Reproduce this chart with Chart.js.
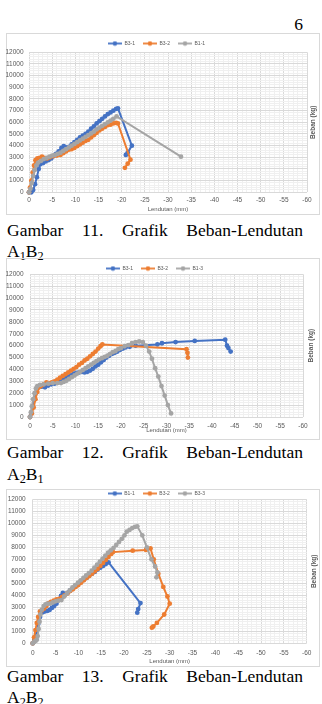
<!DOCTYPE html>
<html>
<head>
<meta charset="utf-8">
<script src="https://cdn.jsdelivr.net/npm/chart.js@4.4.0/dist/chart.umd.min.js"></script>
<style>
  body { margin:0; width:322px; height:704px; background:#fff; position:relative; overflow:hidden;
         font-family:"Liberation Serif", "Times New Roman", serif; color:#000; }
  .box { position:absolute; left:6px; width:314px; border:1px solid #d9d9d9; box-sizing:border-box; }
  .plot { position:absolute; left:6px; width:314px; }
  .cap { position:absolute; left:7px; width:296px; font-size:17.5px; line-height:22px; white-space:nowrap; }
  .line1 { display:flex; justify-content:space-between; }
  sub { font-size:70%; vertical-align:-0.25em; line-height:0; }
  #page { position:absolute; right:19px; top:13px; font-size:17.5px; line-height:22px; }
</style>
</head>
<body>
<div id="page">6</div>

<div class="box" style="top:33px;height:182px"></div>
<div class="plot" style="top:33px;height:180px"><canvas id="g11"></canvas></div>
<div class="cap line1" style="top:219px"><span>Gambar</span><span>11.</span><span>Grafik</span><span>Beban-Lendutan</span></div>
<div class="cap" style="top:240px">A<sub>1</sub>B<sub>2</sub></div>

<div class="box" style="top:258px;height:182px"></div>
<div class="plot" style="top:258px;height:176px"><canvas id="g12"></canvas></div>
<div class="cap line1" style="top:441px"><span>Gambar</span><span>12.</span><span>Grafik</span><span>Beban-Lendutan</span></div>
<div class="cap" style="top:463px">A<sub>2</sub>B<sub>1</sub></div>

<div class="box" style="top:489px;height:178px"></div>
<div class="plot" style="top:483px;height:182px"><canvas id="g13"></canvas></div>
<div class="cap line1" style="top:665px"><span>Gambar</span><span>13.</span><span>Grafik</span><span>Beban-Lendutan</span></div>
<div class="cap" style="top:686px">A<sub>2</sub>B<sub>2</sub></div>

<script>
// axis ranges (lendutan in mm is negative, beban in kg)
const xMin = -60, xMax = 0, xStep = 1, xLabelEvery = 5;
const yMin = 0, yMax = 12000, yStep = 200, yLabelEvery = 1000;
const colors = ['#4472C4', '#ED7D31', '#A5A5A5'];

// Gambar 11 - A1B2
const legend11 = ['B3-1', 'B3-2', 'B1-1'];
const g11Blue = [[0,0],[-0.5,0],[-0.9,200],[-1.3,700],[-1.7,1300],[-2.1,2000],[-2.4,2400],[-3,2500],[-3.6,2650],
  [-4.2,2750],[-4.8,2900],[-5.3,3100],[-5.8,3300],[-6.4,3500],[-7,3800],[-7.5,3950],[-8,3850],[-8.6,3900],
  [-9.2,4100],[-9.8,4300],[-10.4,4500],[-11,4700],[-11.6,4850],[-12.2,5000],[-12.8,5200],[-13.4,5450],
  [-14,5650],[-14.6,5900],[-15.2,6100],[-15.8,6300],[-16.4,6500],[-17,6700],[-17.6,6850],[-18.2,7000],
  [-18.8,7150],[-19.2,7200],[-22.2,4000],[-21.3,3400],[-20.9,3200]];
const g11Orange = [[0,0],[-0.2,400],[-0.5,1000],[-0.8,1700],[-1.1,2300],[-1.4,2750],[-1.8,2900],[-2.3,2950],
  [-2.8,3050],[-3.3,2950],[-3.9,2900],[-4.5,3000],[-5.2,3100],[-6,3150],[-6.8,3200],[-7.4,3350],[-8,3500],
  [-8.6,3650],[-9.2,3700],[-9.8,3800],[-10.4,3950],[-11,4100],[-11.6,4250],[-12.2,4400],[-12.8,4500],
  [-13.4,4700],[-14,4900],[-14.6,5100],[-15.2,5300],[-15.8,5450],[-16.4,5600],[-17,5750],[-17.6,5800],
  [-18.2,5900],[-18.8,5950],[-19.2,5900],[-21.9,2800],[-21.3,2450],[-20.7,2100]];
const g11Gray = [[0,0],[-0.3,300],[-0.6,800],[-0.9,1400],[-1.2,1900],[-1.6,2300],[-2,2550],[-2.6,2700],
  [-3.2,2850],[-3.8,2950],[-4.4,3050],[-5,3150],[-5.6,3200],[-6.2,3300],[-6.8,3400],[-7.4,3550],[-8,3700],
  [-8.6,3850],[-9.2,4000],[-9.8,4150],[-10.4,4300],[-11,4450],[-11.6,4600],[-12.2,4750],[-12.8,4900],
  [-13.4,5050],[-14,5200],[-14.6,5400],[-15.2,5550],[-15.8,5700],[-16.4,5850],[-17,6000],[-17.6,6150],
  [-18.2,6300],[-18.9,6500],[-32.8,3050]];

// Gambar 12 - A2B1
const legend12 = ['B3-1', 'B3-2', 'B1-3'];
const g12Blue = [[0,0],[-0.3,300],[-0.6,900],[-0.9,1500],[-1.2,2000],[-1.6,2400],[-2,2550],[-2.6,2550],
  [-3.3,2500],[-4,2650],[-4.7,2750],[-5.4,2800],[-6,2900],[-6.6,3000],[-7.2,3100],[-7.8,3250],[-8.4,3400],
  [-9,3500],[-9.6,3650],[-10.2,3700],[-10.8,3750],[-11.4,3800],[-12,3750],[-12.6,3800],[-13.2,3900],
  [-13.8,4050],[-14.4,4250],[-15,4400],[-15.6,4600],[-16.2,4800],[-16.8,5000],[-17.4,5150],[-18,5300],
  [-18.6,5400],[-19.2,5500],[-19.8,5650],[-20.4,5750],[-21,5850],[-21.9,5900],[-23.2,6000],[-28,6100],
  [-29,6200],[-32,6300],[-36.2,6400],[-42.9,6500],[-43.3,6000],[-43.6,5800],[-44.1,5500]];
const g12Orange = [[0,0],[-0.4,300],[-0.8,800],[-1.2,1500],[-1.6,2100],[-2,2500],[-2.4,2600],[-3,2750],
  [-3.6,2900],[-4.2,2850],[-4.8,2900],[-5.4,3000],[-6,3150],[-6.6,3300],[-7.2,3450],[-7.8,3600],[-8.4,3750],
  [-9,3900],[-9.6,4050],[-10.2,4200],[-10.8,4400],[-11.4,4550],[-12,4750],[-12.6,4900],[-13.2,5100],
  [-13.8,5300],[-14.4,5500],[-15,5750],[-15.5,5950],[-15.9,6100],[-34.4,5700],[-34.6,5400],[-34.7,5000]];
const g12Gray = [[0,0],[-0.2,400],[-0.4,900],[-0.7,1500],[-1,2000],[-1.3,2400],[-1.6,2600],[-2.2,2700],
  [-3,2750],[-4,2800],[-5,2850],[-6,2850],[-6.8,2850],[-7.4,2950],[-8,3050],[-8.6,3200],[-9.2,3350],
  [-9.8,3500],[-10.4,3650],[-11,3800],[-11.6,3950],[-12.2,4100],[-12.8,4250],[-13.4,4400],[-14,4550],
  [-14.6,4700],[-15.2,4850],[-15.8,4950],[-16.4,5050],[-17,5150],[-17.6,5300],[-18.2,5450],[-18.8,5550],
  [-19.4,5700],[-20,5800],[-20.8,5950],[-21.6,6050],[-22.4,6200],[-23.2,6300],[-24,6350],[-24.8,6300],
  [-25.5,6000],[-26.2,5500],[-26.8,4900],[-27.5,4100],[-28.2,3400],[-28.9,2600],[-29.6,1800],[-30.3,1000],
  [-31,300]];

// Gambar 13 - A2B2
const legend13 = ['B1-1', 'B3-2', 'B3-3'];
const g13Blue = [[0,0],[-0.4,300],[-0.8,900],[-1.2,1600],[-1.6,2200],[-2,2550],[-2.6,2650],[-3.2,2700],
  [-3.7,2780],[-4.2,2950],[-4.7,3100],[-5.2,3300],[-5.7,3600],[-6.2,3950],[-6.6,4200],[-7,4050],[-7.6,4200],
  [-8.2,4400],[-8.8,4600],[-9.4,4800],[-10,5000],[-10.6,5150],[-11.2,5300],[-11.8,5450],[-12.4,5650],
  [-13,5800],[-13.6,5950],[-14.2,6150],[-14.8,6300],[-15.4,6450],[-16,6600],[-16.6,6750],[-23.6,3350],
  [-23.1,2850],[-22.9,2550]];
const g13Orange = [[0,0],[-0.3,500],[-0.6,1100],[-0.9,1700],[-1.2,2200],[-1.6,2650],[-2,2750],[-2.5,2900],
  [-3,3100],[-3.5,3350],[-4,3450],[-4.6,3550],[-5.2,3650],[-5.8,3700],[-6.4,3850],[-7,4000],[-7.6,4150],
  [-8.2,4350],[-8.8,4500],[-9.4,4700],[-10,4850],[-10.6,5050],[-11.2,5250],[-11.8,5450],[-12.4,5600],
  [-13,5800],[-13.6,6000],[-14.2,6200],[-14.8,6450],[-15.4,6700],[-16,6950],[-16.6,7200],[-17.2,7450],
  [-17.6,7600],[-21.9,7720],[-24.8,7780],[-25.8,7900],[-26.5,7000],[-27.5,5800],[-28.6,4700],[-29.5,3900],
  [-30,3300],[-28.8,2400],[-27.2,1700],[-26.4,1400],[-26.1,1300]];
const g13Gray = [[0,0],[-0.3,100],[-0.6,200],[-0.9,300],[-1.1,600],[-1.3,1200],[-1.5,1800],[-1.7,2400],
  [-2,2800],[-2.4,3100],[-2.8,3250],[-3.2,3300],[-3.8,3300],[-4.4,3400],[-5,3500],[-5.6,3550],[-6.3,3600],
  [-6.9,3900],[-7.5,4150],[-8.1,4400],[-8.7,4650],[-9.3,4850],[-9.9,5050],[-10.5,5250],[-11.1,5450],
  [-11.7,5650],[-12.3,5850],[-12.9,6050],[-13.5,6300],[-14.1,6550],[-14.7,6800],[-15.3,7050],[-15.9,7300],
  [-16.5,7550],[-17.1,7750],[-17.7,7950],[-18.3,8200],[-18.9,8450],[-19.5,8700],[-20.1,9000],[-20.6,9300],
  [-21.2,9450],[-21.8,9600],[-22.4,9700],[-22.9,9750],[-24,9000],[-25,8000],[-26,7000],[-26.8,6400],
  [-27.3,5900],[-27.1,5500]];

const sans = 'Liberation Sans';
const txt = '#595959';

// fixed legend height so the plot area lands where it should
const legendFit = {
  id: 'legendFit',
  beforeLayout(chart, args, opts) {
    const lg = chart.legend;
    if (lg && !lg._fitPatched) {
      const fit = lg.fit;
      lg.fit = function () { fit.call(this); this.height = opts.height; };
      lg._fitPatched = true;
    }
  }
};

// "Beban (kg)" on the right, reading bottom to top like excel
const sideTitle = {
  id: 'sideTitle',
  afterDraw(chart, args, opts) {
    const {ctx, chartArea} = chart;
    ctx.save();
    ctx.translate(chartArea.right + opts.dx, (chartArea.top + chartArea.bottom) / 2);
    ctx.rotate(-Math.PI / 2);
    ctx.font = 'bold 6.5px "' + sans + '"';
    ctx.fillStyle = txt;
    ctx.textAlign = 'center';
    ctx.textBaseline = 'middle';
    ctx.fillText(opts.text, 0, 0);
    ctx.restore();
  }
};

function marker(color) {
  const c = document.createElement('canvas');
  c.width = 14; c.height = 6;
  const g = c.getContext('2d');
  g.strokeStyle = color; g.lineWidth = 1.8;
  g.beginPath(); g.moveTo(0, 3); g.lineTo(14, 3); g.stroke();
  g.fillStyle = color;
  g.beginPath(); g.arc(7, 3, 2.3, 0, Math.PI * 2); g.fill();
  return c;
}
const markers = colors.map(marker);

function gridColor(every) {
  return c => (c.tick && c.tick.value % every === 0) ? '#d9d9d9' : '#f0f0f0';
}

function makeChart(id, labels, series, lay) {
  new Chart(document.getElementById(id), {
    type: 'scatter',
    data: {
      datasets: series.map((pts, i) => ({
        label: labels[i],
        data: pts.map(p => ({x: p[0], y: p[1]})),
        showLine: true,
        borderColor: colors[i],
        backgroundColor: colors[i],
        borderWidth: 2,
        pointRadius: 2.4,
        pointBorderWidth: 0,
        pointHoverRadius: 2.4,
        order: 3 - i,
        clip: 4
      }))
    },
    options: {
      responsive: true,
      maintainAspectRatio: false,
      animation: false,
      events: [],
      layout: {padding: {left: 0, right: lay.padRight, top: 0, bottom: 0}},
      plugins: {
        legend: {
          position: 'top',
          labels: {
            usePointStyle: true,
            pointStyleWidth: 14,
            padding: 8,
            color: txt,
            font: {size: 5, family: sans},
            sort: (a, b) => a.datasetIndex - b.datasetIndex,
            generateLabels(chart) {
              const items = Chart.defaults.plugins.legend.labels.generateLabels(chart);
              items.forEach(it => { it.pointStyle = markers[it.datasetIndex]; });
              return items;
            }
          }
        },
        tooltip: {enabled: false},
        legendFit: {height: lay.legendH},
        sideTitle: {text: 'Beban (kg)', dx: lay.titleDx}
      },
      scales: {
        x: {
          type: 'linear', min: xMin, max: xMax, reverse: true,
          ticks: {stepSize: xStep, autoSkip: false, maxRotation: 0, maxTicksLimit: 100,
                  padding: lay.tickPadX, color: txt, font: {size: 6.5, family: sans},
                  callback: v => v % xLabelEvery === 0 ? String(v) : ''},
          grid: {drawTicks: false, color: gridColor(xLabelEvery)},
          border: {display: false},
          title: {display: true, text: 'Lendutan (mm)', padding: 0, color: txt, font: {size: 6, family: sans}},
          afterFit: s => { s.height = lay.xH; }
        },
        y: {
          type: 'linear', min: yMin, max: yMax,
          ticks: {stepSize: yStep, autoSkip: false, maxTicksLimit: 100,
                  padding: lay.tickPadY, color: txt, font: {size: 6.5, family: sans},
                  callback: v => v % yLabelEvery === 0 ? String(v) : ''},
          grid: {drawTicks: false, color: gridColor(yLabelEvery)},
          border: {display: false},
          afterFit: s => { s.width = lay.yW; }
        }
      }
    },
    plugins: [legendFit, sideTitle]
  });
}

makeChart('g11', legend11, [g11Blue, g11Orange, g11Gray],
  {legendH: 19.3, xH: 20.7, yW: 23, padRight: 13, tickPadX: 4.4, tickPadY: 5.5, titleDx: 6.3});
makeChart('g12', legend12, [g12Blue, g12Orange, g12Gray],
  {legendH: 16.3, xH: 17, yW: 24, padRight: 17, tickPadX: 5, tickPadY: 6.5, titleDx: 8});
makeChart('g13', legend13, [g13Blue, g13Orange, g13Gray],
  {legendH: 16.3, xH: 21.7, yW: 26.7, padRight: 13.3, tickPadX: 6, tickPadY: 7, titleDx: 8});
</script>
</body>
</html>
